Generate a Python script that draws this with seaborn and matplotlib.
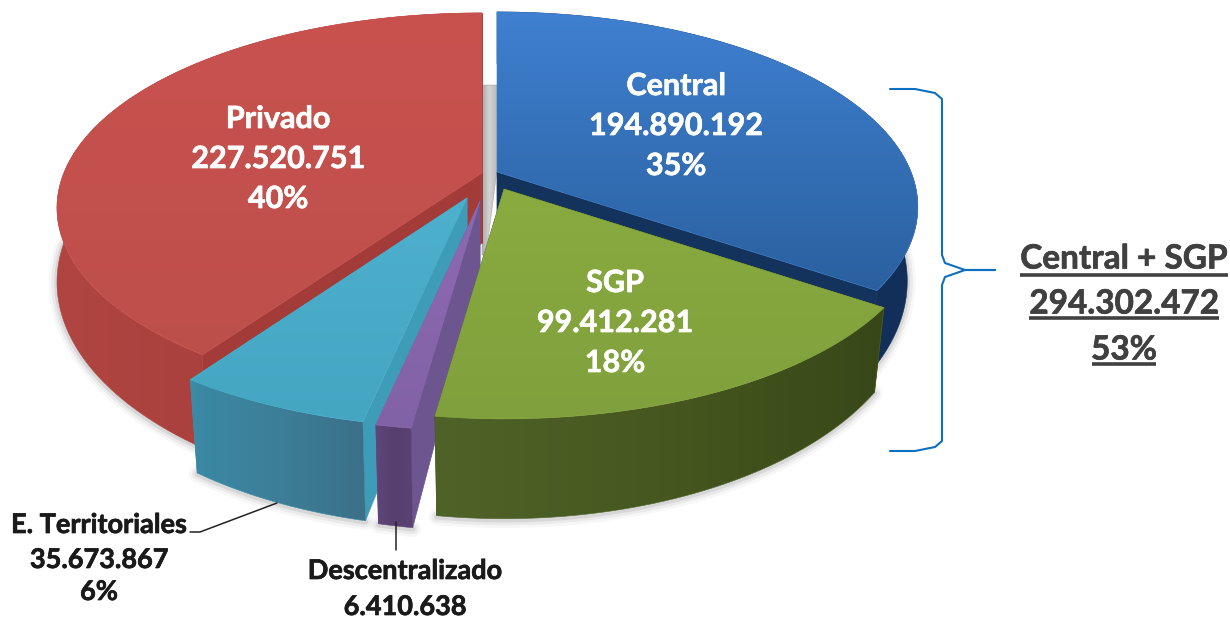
# -*- coding: utf-8 -*-
import numpy as np
import seaborn as sns
import matplotlib.pyplot as plt
import matplotlib.patheffects as pe
from matplotlib.patches import Polygon

categories = ["Central", "SGP", "Descentralizado", "E. Territoriales", "Privado"]
values = [194890192, 99412281, 6410638, 35673867, 227520751]
value_labels = ["194.890.192", "99.412.281", "6.410.638", "35.673.867", "227.520.751"]
pct_labels = ["35%", "18%", "", "6%", "40%"]
sum_labels = ["Central + SGP", "294.302.472", "53%"]

sns.set_theme(style="white")
plt.rcParams["font.family"] = ["Lato", "DejaVu Sans"]

# per slice look: apex on the picture, width factors, top colours, wall colours, cut face colour
look = {
    "Privado": dict(apex=(482, 173), sx=1.01, base=1.0, top=["#c9524f", "#bd4f4b"],
                    wall=["#b04541", "#a83f3c", "#a8423e"], face="#a33c38"),
    "Central": dict(apex=(497, 172), sx=1.0, base=0.975, top=["#3f80d0", "#2a609f"],
                    wall=["#12305a", "#102c54", "#12305a"], face="#14335c"),
    "E. Territoriales": dict(apex=(467, 198), sx=1.0, base=0.975, top=["#4db0cc", "#45a6c2"],
                             wall=["#3a8aa6", "#3d7e98", "#3b7088"], face="#3f9cb8"),
    "Descentralizado": dict(apex=(480, 201), sx=1.0, base=0.975, top=["#8e69b2", "#8262a6"],
                            wall=["#5f4678", "#573f70", "#5a4274"], face="#6d5690"),
    "SGP": dict(apex=(504, 189), sx=1.0, base=0.975, top=["#8aab40", "#7fa03c"],
                wall=["#4f6228", "#46581f", "#384718"], face="#384718"),
}
draw_order = ["Privado", "Central", "E. Territoriales", "Descentralizado", "SGP"]

# perspective of the disc
A, B, K, H = 414.0, 188.7, 0.179, 70.0


def rim(theta):
    t = np.radians(theta)
    u, v = np.sin(t), -np.cos(t)
    w = 1 - K * v
    return A * u / w, B * v / w, H / w ** 1.8


def fill_grad(ax, poly, colors, horizontal=True, z=1):
    poly = np.asarray(poly)
    x0, y0 = poly.min(axis=0)
    x1, y1 = poly.max(axis=0)
    cmap = sns.blend_palette(colors, as_cmap=True)
    if horizontal:
        arr = np.linspace(0, 1, 256).reshape(1, -1)
    else:
        arr = np.linspace(0, 1, 256).reshape(-1, 1)
    im = ax.imshow(arr, extent=[x0, x1, y1, y0], cmap=cmap, aspect="auto",
                   origin="upper", zorder=z, interpolation="bilinear")
    clip = Polygon(poly, closed=True, transform=ax.transData, fc="none", ec="none")
    ax.add_patch(clip)
    im.set_clip_path(clip)
    ax.add_patch(Polygon(poly, closed=True, fc="none", ec=colors[0], lw=0.4, zorder=z))


fig = plt.figure(figsize=(12.3, 6.17), dpi=100)
ax = fig.add_axes([0, 0, 1, 1])
ax.set_axis_off()

shares = np.array(values) / sum(values) * 360
ends = np.cumsum(shares)
starts = ends - shares

# gap behind the slices
fill_grad(ax, [(482, 85), (497, 85), (497, 170), (486, 255), (482, 255)],
          ["#a9a9a9", "#d4d4d4", "#b9b9b9"], z=1)

z = 2
for name in draw_order:
    i = categories.index(name)
    st = look[name]
    ax0, ay0 = st["apex"]
    th = np.linspace(starts[i], ends[i], 120)
    rx, ry, rh = rim(th)
    rx = rx * st["sx"]
    px, py = ax0 + rx, ay0 + ry
    bx_, by_ = ax0 + rx * st["base"], py + rh
    top = np.column_stack([np.r_[ax0, px], np.r_[ay0, py]])

    # soft shadow under the wall, front part only
    front = np.cos(np.radians(th)) < 0
    for lw, al in [(12, 0.03), (8, 0.05), (4, 0.08)]:
        ax.plot(bx_[front], by_[front] + 1, color="black", alpha=al, lw=lw, zorder=z,
                solid_capstyle="round")

    # cut faces first, the disc covers what is hidden
    for j in [0, -1]:
        face = [(ax0, ay0), (px[j], py[j]), (bx_[j], by_[j]), (ax0, ay0 + H)]
        ax.add_patch(Polygon(face, closed=True, fc=st["face"], ec=st["face"], lw=0.5, zorder=z))

    # outer wall
    wall = np.r_[np.column_stack([px, py]), np.column_stack([bx_, by_])[::-1]]
    fill_grad(ax, wall, st["wall"], z=z + 0.1)

    fill_grad(ax, top, st["top"], horizontal=False, z=z + 0.2)
    z += 1

txt = dict(ha="center", va="center", fontweight="bold", zorder=20)


def label(x, y, s, color, size):
    t = ax.text(x, y, s, color=color, fontsize=size, **txt)
    t.set_path_effects([pe.withStroke(linewidth=0.5, foreground=color)])


# labels inside the slices
inside = {"Central": (676, [86, 126, 166]), "SGP": (615, [283, 323, 363]), "Privado": (278, [119, 159, 199])}
for name, (x, ys) in inside.items():
    i = categories.index(name)
    for y, s in zip(ys, [name, value_labels[i], pct_labels[i]]):
        label(x, y, s, "white", 22)

# labels outside, with leader lines
i = categories.index("E. Territoriales")
for y, s in zip([525, 560, 592], [categories[i], value_labels[i], pct_labels[i]]):
    label(99, y, s, "#1a1a1a", 19.5)
i = categories.index("Descentralizado")
for y, s in zip([571, 607], [categories[i], value_labels[i]]):
    label(405, y, s, "#1a1a1a", 19.5)
ax.plot([190, 200, 277], [532, 532, 503], color="#222222", lw=1.1, zorder=15)
ax.plot([396, 396], [522, 550], color="#222222", lw=1.1, zorder=15)

# bracket on the right
bx = [890, 915, 935, 942, 942, 945, 965, 995]
by = [89, 89, 93, 99, 255, 263, 270, 270]
ax.plot(bx, by, color="#0b70c0", lw=1.5, zorder=15)
ax.plot(bx, [540 - b for b in by], color="#0b70c0", lw=1.5, zorder=15)

# sum text, underlined by hand
under = [(1020, 1228, 275), (1029, 1219, 318), (1092, 1156, 364)]
for s, y, (x0, x1, uy) in zip(sum_labels, [259, 304, 350], under):
    label(1124, y, s, "#404040", 24)
    ax.plot([x0, x1], [uy, uy], color="#404040", lw=2.6, zorder=20, solid_capstyle="butt")

ax.set_xlim(0, 1230)
ax.set_ylim(617, 0)
fig.savefig("out.png", dpi=100, facecolor="white")
